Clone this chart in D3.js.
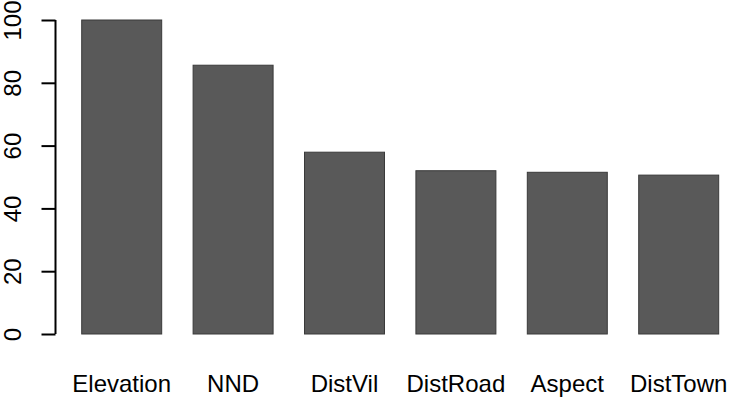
<!DOCTYPE html>
<html>

<head>
    <meta charset="UTF-8">
    <style>
        body { margin: 0; background: #fff; }
    </style>
</head>

<body>
    <script src="https://d3js.org/d3.v7.min.js"></script>
    <div id="chart"></div>
    <script>
        // variable importance values
        const categories = ["Elevation", "NND", "DistVil", "DistRoad", "Aspect", "DistTown"];
        const values = [100, 85.6, 57.9, 52.0, 51.5, 50.6];
        const yTicks = [0, 20, 40, 60, 80, 100];

        const records = categories.map((c, i) => ({ name: c, value: values[i] }));

        const W = 732, H = 400;
        const svg = d3.select("#chart")
            .append("svg")
            .attr("width", W)
            .attr("height", H);

        // X scale: bars start at ~82px, step ~111.4px, width ~80px
        const x = d3.scaleBand()
            .domain(categories)
            .range([66, 734.4])
            .paddingInner(0.282)
            .paddingOuter(0.141);

        // Y scale
        const y = d3.scaleLinear()
            .domain([0, 100])
            .range([334, 20]);

        // Bars
        svg.selectAll("rect.bar")
            .data(records)
            .enter()
            .append("rect")
            .attr("class", "bar")
            .attr("x", d => x(d.name))
            .attr("y", d => y(d.value))
            .attr("width", x.bandwidth())
            .attr("height", d => y(0) - y(d.value))
            .attr("fill", "#595959")
            .attr("stroke", "#3a3a3a")
            .attr("stroke-width", 1);

        // Y axis, R style: line only spans the ticks, labels rotated
        const yAxis = svg.append("g")
            .attr("transform", "translate(55.5,0)")
            .call(d3.axisLeft(y).tickValues(yTicks).tickSize(14).tickSizeOuter(0).tickPadding(0));

        yAxis.select(".domain")
            .attr("d", `M0,${y(0)}V${y(100)}`)
            .attr("stroke", "#000")
            .attr("stroke-width", 2);

        yAxis.selectAll(".tick line")
            .attr("stroke", "#000")
            .attr("stroke-width", 2);

        yAxis.selectAll(".tick text")
            .attr("transform", "rotate(-90)")
            .attr("x", 0)
            .attr("y", -34.5)
            .attr("dy", 0)
            .attr("text-anchor", "middle")
            .attr("fill", "#000")
            .style("font-family", "'Liberation Sans', Arial, sans-serif")
            .style("font-size", "24px");

        // Category labels
        svg.selectAll("text.cat")
            .data(records)
            .enter()
            .append("text")
            .attr("class", "cat")
            .attr("x", d => x(d.name) + x.bandwidth() / 2)
            .attr("y", 392)
            .attr("text-anchor", "middle")
            .attr("fill", "#000")
            .style("font-family", "'Liberation Sans', Arial, sans-serif")
            .style("font-size", "24px")
            .text(d => d.name);
    </script>
</body>

</html>
